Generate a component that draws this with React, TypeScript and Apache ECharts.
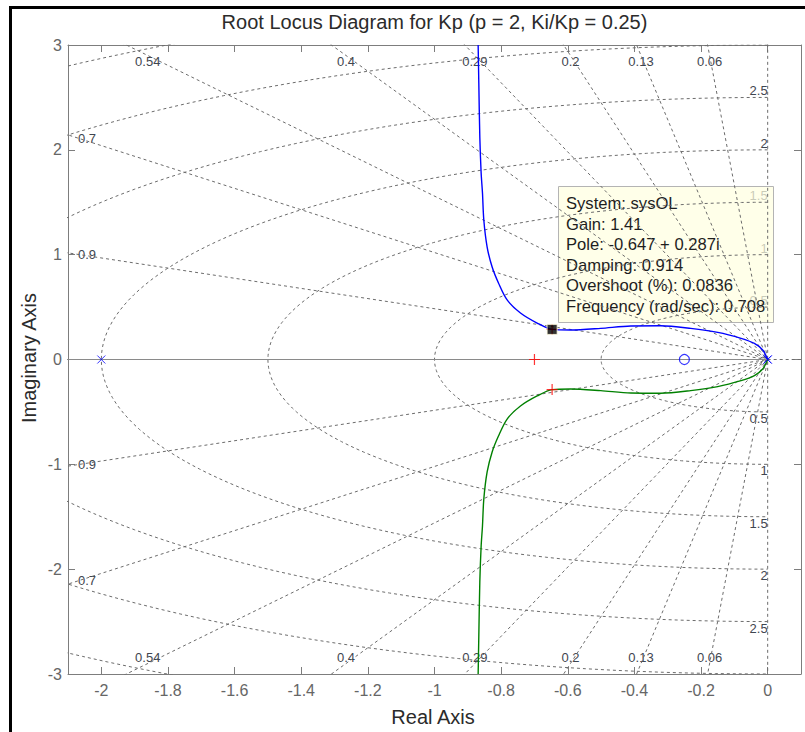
import React, { useEffect, useRef } from "react";
import * as echarts from "echarts";

// ---------- data ----------
const titleText = "Root Locus Diagram for Kp (p = 2, Ki/Kp = 0.25)";
const xAxisName = "Real Axis";
const yAxisName = "Imaginary Axis";
const xTicks = [-2, -1.8, -1.6, -1.4, -1.2, -1, -0.8, -0.6, -0.4, -0.2, 0];
const yTicks = [-3, -2, -1, 0, 1, 2, 3];

// s-grid (damping ratio rays, natural frequency circles)
const dampingValues = [0.06, 0.13, 0.2, 0.29, 0.4, 0.54, 0.7, 0.9];
const wnCircles = [0.5, 1, 1.5, 2, 2.5, 3, 3.5];
const wnLabels = [0.5, 1, 1.5, 2, 2.5];

// root locus branches
const blueRe = [-0.869, -0.867, -0.864, -0.86, -0.856, -0.852, -0.842, -0.827, -0.808, -0.782, -0.742, -0.692, -0.647, -0.592, -0.501, -0.411, -0.321, -0.231, -0.15, -0.08, -0.04, -0.015, 0];
const blueIm = [3.0, 2.637, 2.122, 1.779, 1.588, 1.331, 1.073, 0.882, 0.73, 0.568, 0.444, 0.348, 0.287, 0.281, 0.297, 0.32, 0.322, 0.297, 0.259, 0.202, 0.154, 0.091, 0];
const greenRe = [-0.869, -0.867, -0.864, -0.86, -0.856, -0.852, -0.842, -0.827, -0.808, -0.782, -0.742, -0.692, -0.647, -0.592, -0.501, -0.411, -0.321, -0.231, -0.15, -0.08, -0.04, -0.015, 0];
const greenIm = [-3.0, -2.637, -2.122, -1.779, -1.588, -1.331, -1.073, -0.882, -0.73, -0.568, -0.444, -0.348, -0.287, -0.281, -0.297, -0.32, -0.322, -0.297, -0.259, -0.202, -0.154, -0.091, 0];

// open-loop poles (x), zero (o), closed-loop poles (+), selected point
const poleRe = [-2, 0, 0];
const poleIm = [0, 0, 0];
const zeroRe = [-0.25];
const zeroIm = [0];
const clPoleRe = [-0.7, -0.647, -0.647];
const clPoleIm = [0, 0.287, -0.287];
const selectedPoint = [-0.647, 0.287];

const tipLines = [
  "System: sysOL",
  "Gain: 1.41",
  "Pole: -0.647 + 0.287i",
  "Damping: 0.914",
  "Overshoot (%): 0.0836",
  "Frequency (rad/sec): 0.708",
];

// ---------- styles ----------
const FONT = '"Liberation Sans", Arial, Helvetica, sans-serif';
const AXIS_COLOR = "#7d7d7d";
const GRID_COLOR = "#6c6c6c";
const dashed = { color: GRID_COLOR, width: 1, type: [3, 3] };

function lineSeries(data: number[][], lineStyle: any, extra: any = {}) {
  return {
    type: "line",
    data,
    symbol: "none",
    silent: true,
    lineStyle,
    clip: true,
    z: 1,
    ...extra,
  };
}

function buildSeries() {
  const series: any[] = [];
  const R = 10;
  dampingValues.forEach((z) => {
    const s = Math.sqrt(1 - z * z);
    series.push(lineSeries([[-R * z, R * s], [0, 0], [-R * z, -R * s]], dashed));
  });
  // zeta = 0 (imaginary axis) and right half of real axis
  series.push(lineSeries([[0, -4], [0, 4]], dashed));
  series.push(lineSeries([[0, 0], [0.2, 0]], dashed));
  wnCircles.forEach((w) => {
    const pts: number[][] = [];
    for (let a = 90; a <= 270; a += 1.5) {
      const r = (a * Math.PI) / 180;
      pts.push([w * Math.cos(r), w * Math.sin(r)]);
    }
    series.push(lineSeries(pts, dashed));
  });
  // solid real axis
  series.push(lineSeries([[-2.2, 0], [0, 0]], { color: "#8a8a8a", width: 1 }, { z: 2 }));

  // locus branches
  series.push(
    lineSeries(blueRe.map((x, i) => [x, blueIm[i]]), { color: "#0000ff", width: 1.4 }, { z: 3, smooth: 0.3 })
  );
  series.push(
    lineSeries(greenRe.map((x, i) => [x, greenIm[i]]), { color: "#008000", width: 1.4 }, { z: 3, smooth: 0.3 })
  );

  // markers
  series.push({
    type: "scatter",
    silent: true,
    z: 4,
    symbol: "path://M0 0 L10 10 M10 0 L0 10",
    symbolSize: 8,
    itemStyle: { color: "rgba(0,0,0,0)", borderColor: "#0000ff", borderWidth: 1 },
    data: poleRe.map((x, i) => [x, poleIm[i]]),
  });
  series.push({
    type: "scatter",
    silent: true,
    z: 4,
    symbol: "circle",
    symbolSize: 10,
    itemStyle: { color: "rgba(0,0,0,0)", borderColor: "#0000ff", borderWidth: 1.2 },
    data: zeroRe.map((x, i) => [x, zeroIm[i]]),
  });
  series.push({
    type: "scatter",
    silent: true,
    z: 5,
    symbol: "path://M5 0 L5 10 M0 5 L10 5",
    symbolSize: 11,
    itemStyle: { color: "rgba(0,0,0,0)", borderColor: "#ff0000", borderWidth: 1.2 },
    data: clPoleRe.map((x, i) => [x, clPoleIm[i]]),
  });
  series.push({
    type: "scatter",
    silent: true,
    z: 6,
    symbol: "rect",
    symbolSize: 10,
    itemStyle: { color: "#000000", borderColor: "#fffbe0", borderWidth: 1 },
    data: [selectedPoint],
  });
  return series;
}

function axisCommon() {
  return {
    type: "value",
    axisLine: { show: true, onZero: false, lineStyle: { color: AXIS_COLOR, width: 1 } },
    splitLine: { show: false },
  };
}

export default function App() {
  const ref = useRef<HTMLDivElement>(null);
  useEffect(() => {
    if (!ref.current) return;
    const chart = echarts.init(ref.current, undefined, { renderer: "svg" });
    const tickLabel = { color: "#666666", fontSize: 16, fontFamily: FONT };
    chart.setOption({
      animation: false,
      grid: { left: 68, top: 45, width: 733, height: 629, show: false },
      xAxis: [
        {
          ...axisCommon(),
          min: -2.1,
          max: 0.1,
          position: "bottom",
          axisTick: { show: true, inside: true, length: 7, customValues: xTicks, lineStyle: { color: AXIS_COLOR } },
          axisLabel: { ...tickLabel, customValues: xTicks, margin: 8, formatter: (v: number) => String(v) },
        },
        {
          ...axisCommon(),
          min: -2.1,
          max: 0.1,
          position: "top",
          axisTick: { show: true, inside: true, length: 7, customValues: xTicks, lineStyle: { color: AXIS_COLOR } },
          axisLabel: { show: false, customValues: xTicks },
        },
      ],
      yAxis: [
        {
          ...axisCommon(),
          min: -3,
          max: 3,
          interval: 1,
          position: "left",
          axisTick: { show: true, inside: true, length: 7, customValues: yTicks, lineStyle: { color: AXIS_COLOR } },
          axisLabel: { ...tickLabel, customValues: yTicks, margin: 6, formatter: (v: number) => String(v) },
        },
        {
          ...axisCommon(),
          min: -3,
          max: 3,
          interval: 1,
          position: "right",
          axisTick: { show: true, inside: true, length: 7, customValues: yTicks, lineStyle: { color: AXIS_COLOR } },
          axisLabel: { show: false },
        },
      ],
      series: buildSeries(),
    });

    const px = (x: number, y: number) => chart.convertToPixel({ gridIndex: 0 }, [x, y]) as number[];
    const gridLabelStyle = (text: string, align: string, vAlign: string) => ({
      text,
      fill: "#3f4650",
      fontSize: 13,
      fontFamily: FONT,
      align,
      verticalAlign: vAlign,
      textAlign: align,
      textVerticalAlign: vAlign,
    });
    const graphics: any[] = [];
    // damping labels
    dampingValues.forEach((z) => {
      const s = Math.sqrt(1 - z * z);
      const topRe = (-2.9 * z) / s;
      if (topRe >= -2.07) {
        const p1 = px(topRe, 2.9);
        graphics.push({ type: "text", x: p1[0], y: p1[1], style: gridLabelStyle(String(z), "center", "top") });
        const p2 = px(topRe, -2.9);
        graphics.push({ type: "text", x: p2[0], y: p2[1], style: gridLabelStyle(String(z), "center", "bottom") });
      } else {
        const im = (2.07 * s) / z;
        const p1 = px(-2.07, im);
        graphics.push({ type: "text", x: p1[0], y: p1[1], style: gridLabelStyle(String(z), "left", "middle") });
        const p2 = px(-2.07, -im);
        graphics.push({ type: "text", x: p2[0], y: p2[1], style: gridLabelStyle(String(z), "left", "middle") });
      }
    });
    // natural frequency labels
    wnLabels.forEach((w) => {
      const p1 = px(0, w);
      graphics.push({ type: "text", x: p1[0], y: p1[1], style: gridLabelStyle(String(w), "right", "bottom") });
      const p2 = px(0, -w);
      graphics.push({ type: "text", x: p2[0], y: p2[1], style: gridLabelStyle(String(w), "right", "top") });
    });
    // title & axis names
    graphics.push({
      type: "text",
      x: 434.5,
      y: 22,
      style: { text: titleText, fill: "#2b2b2b", fontSize: 20, fontFamily: FONT, align: "center", verticalAlign: "middle", textAlign: "center", textVerticalAlign: "middle" },
    });
    graphics.push({
      type: "text",
      x: 433,
      y: 717,
      style: { text: xAxisName, fill: "#2b2b2b", fontSize: 20, fontFamily: FONT, align: "center", verticalAlign: "middle", textAlign: "center", textVerticalAlign: "middle" },
    });
    graphics.push({
      type: "text",
      x: 29,
      y: 358,
      rotation: Math.PI / 2,
      style: { text: yAxisName, fill: "#2b2b2b", fontSize: 20, fontFamily: FONT, align: "center", verticalAlign: "middle", textAlign: "center", textVerticalAlign: "middle" },
    });
    // data tip
    const sp = px(selectedPoint[0], selectedPoint[1]);
    const boxLeft = Math.round(sp[0] + 6) + 0.5;
    const boxBottom = Math.round(sp[1] - 7) + 0.5;
    const boxH = 136;
    const boxW = 215;
    const tipChildren: any[] = [
      {
        type: "rect",
        shape: { x: boxLeft, y: boxBottom - boxH, width: boxW, height: boxH },
        style: { fill: "rgba(255,255,225,0.72)", stroke: "#b4b4b4", lineWidth: 1 },
      },
    ];
    tipLines.forEach((t, i) => {
      tipChildren.push({
        type: "text",
        x: boxLeft + 7.5,
        y: boxBottom - boxH + 17 + i * 20.6,
        style: { text: t, fill: "#1e1e1e", fontSize: 16.6, fontFamily: FONT, align: "left", verticalAlign: "middle", textAlign: "left", textVerticalAlign: "middle" },
      });
    });
    graphics.push({ type: "group", z: 100, children: tipChildren });
    // outer frame of the screenshot
    graphics.push({
      type: "rect",
      z: 100,
      shape: { x: 10.5, y: 7.5, width: 900, height: 900 },
      style: { fill: "rgba(0,0,0,0)", stroke: "#000000", lineWidth: 3 },
    });
    chart.setOption({ graphic: graphics });

    return () => chart.dispose();
  }, []);

  return <div ref={ref} style={{ position: "absolute", left: 0, top: 0, width: 805, height: 732, background: "#ffffff" }} />;
}
